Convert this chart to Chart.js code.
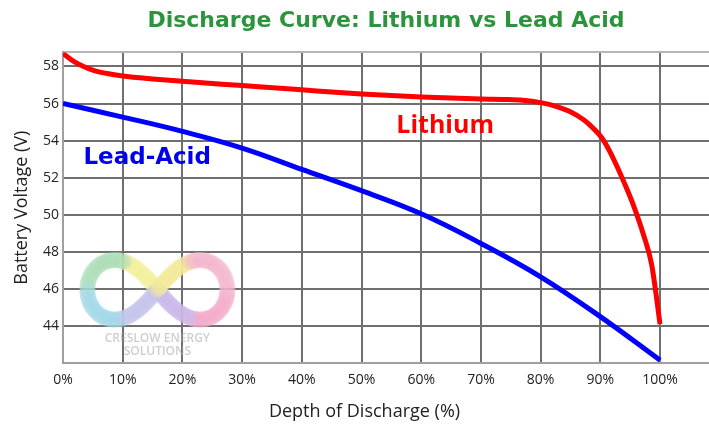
<!DOCTYPE html>
<html>
<head>
<meta charset="utf-8">
<script src="https://cdn.jsdelivr.net/npm/chart.js@4/dist/chart.umd.min.js"></script>
<style>
  html, body { margin: 0; padding: 0; background: #fff; }
  #wrap { width: 709px; height: 425px; }
</style>
</head>
<body>
<div id="wrap"><canvas id="dischargeChart"></canvas></div>
<script>
// depth of discharge (%) and voltage
const lithiumDepth = [0, 1.8, 3.45, 5.1, 7.4, 10, 15, 20, 30, 40, 50, 60, 70, 74, 77, 80, 82.7, 84.9, 87.2, 88.8, 90.3, 91.6, 92.8, 93.9, 95.5, 97.2, 98.6, 100];
const lithiumVolts = [58.7, 58.28, 58.0, 57.79, 57.62, 57.49, 57.33, 57.2, 56.97, 56.74, 56.52, 56.35, 56.24, 56.22, 56.18, 56.05, 55.84, 55.57, 55.12, 54.67, 54.13, 53.41, 52.6, 51.8, 50.55, 48.95, 47.3, 44.1];
const leadDepth = [0, 10, 20, 30, 40, 50, 60, 70, 80, 90, 100];
const leadVolts = [56.0, 55.27, 54.5, 53.6, 52.45, 51.3, 50.05, 48.45, 46.65, 44.5, 42.15];
const xTicks = [0, 10, 20, 30, 40, 50, 60, 70, 80, 90, 100];
const yTicks = [44, 46, 48, 50, 52, 54, 56, 58];

const gridGrey = '#6f6f6f';
const fontFam = "'Open Sans', sans-serif";
const wideFam = "'DejaVu Sans', sans-serif";

function pairs(xs, ys){
    return xs.map((d, i) => ({x: d, y: ys[i]}));
}

// watermark + curve labels + x axis title
const extras = {
    id: 'extras',
    beforeDatasetsDraw(chart){
        const {ctx, scales: {x, y}} = chart;
        const cx = x.getPixelForValue(15.8), cy = y.getPixelForValue(45.95);
        const a = 70;
        const stops = ['#f3a8c8', '#c9b6e8', '#f4ef9c', '#a8dcb4', '#9fd6e6', '#c3c3ec', '#f3ea98', '#f4b4cc'];
        ctx.save();
        ctx.globalAlpha = 0.32;
        ctx.lineWidth = 16;
        ctx.lineCap = 'round';
        const n = 160;
        for (let i = 0; i < n; i++){
            const t0 = i / n * Math.PI * 2, t1 = (i + 1) / n * Math.PI * 2;
            const p = t => {
                const s = Math.sin(t), c = Math.cos(t), d = 1 + s * s;
                return [cx + a * c / d, cy + a * s * c / d * 1.2];
            };
            const [x0, y0] = p(t0), [x1, y1] = p(t1);
            ctx.strokeStyle = stops[Math.floor(i / n * stops.length)];
            ctx.beginPath();
            ctx.moveTo(x0, y0);
            ctx.lineTo(x1, y1);
            ctx.stroke();
        }
        ctx.globalAlpha = 1;
        ctx.fillStyle = 'rgba(165,165,165,0.55)';
        ctx.font = "600 12px " + fontFam;
        ctx.textAlign = 'center';
        ctx.textBaseline = 'middle';
        ctx.fillText('CRESLOW ENERGY', cx, cy + 49);
        ctx.fillText('SOLUTIONS', cx, cy + 62);
        ctx.restore();
    },
    afterDatasetsDraw(chart){
        const {ctx, scales: {x, y}} = chart;
        ctx.save();
        ctx.textAlign = 'center';
        ctx.textBaseline = 'middle';
        ctx.font = "bold 25px " + fontFam;
        ctx.fillStyle = '#ff0000';
        ctx.fillText('Lithium', x.getPixelForValue(64), y.getPixelForValue(54.8));
        ctx.font = "bold 23px " + wideFam;
        ctx.fillStyle = '#0000ee';
        ctx.fillText('Lead-Acid', x.getPixelForValue(14.1), y.getPixelForValue(53.05));
        ctx.font = "18px " + fontFam;
        ctx.fillStyle = '#222';
        ctx.fillText('Depth of Discharge (%)', x.getPixelForValue(50.5), 412);
        ctx.restore();
    }
};

var ctx = document.getElementById('dischargeChart').getContext('2d');
var chart = new Chart(ctx, {
    type: 'line',
    data: {
        datasets: [{
            label: 'Lithium',
            data: pairs(lithiumDepth, lithiumVolts),
            borderColor: '#ff0000',
            borderWidth: 5,
            pointRadius: 0,
            cubicInterpolationMode: 'monotone',
            fill: false
        }, {
            label: 'Lead-Acid',
            data: pairs(leadDepth, leadVolts),
            borderColor: '#0000ff',
            borderWidth: 5,
            pointRadius: 0,
            tension: 0.4,
            fill: false
        }]
    },
    options: {
        responsive: true,
        maintainAspectRatio: false,
        animation: false,
        layout: {padding: 0},
        plugins: {
            legend: {display: false},
            tooltip: {enabled: false},
            title: {
                display: true,
                fullSize: false,
                text: 'Discharge Curve: Lithium vs Lead Acid',
                color: '#2b943d',
                font: {family: wideFam, size: 22, weight: 'bold', lineHeight: 1.2},
                padding: {top: 8, bottom: 18}
            }
        },
        scales: {
            x: {
                type: 'linear',
                min: 0,
                max: 108.2,
                afterBuildTicks: s => { s.ticks = xTicks.map(v => ({value: v})); },
                afterFit: s => { s.height = 62; },
                grid: {color: gridGrey, lineWidth: 2, drawTicks: false},
                border: {color: '#a0a0a0', width: 2},
                ticks: {
                    padding: 9,
                    color: '#222',
                    font: {family: fontFam, size: 14},
                    maxRotation: 0,
                    callback: v => v + '%'
                }
            },
            y: {
                min: 42,
                max: 58.76,
                afterBuildTicks: s => { s.ticks = yTicks.concat([58.76]).map(v => ({value: v})); },
                afterFit: s => { s.width = 63; },
                grid: {
                    color: c => (c.tick && c.tick.value > 58.5) ? '#b5b5b5' : gridGrey,
                    lineWidth: 2,
                    drawTicks: false
                },
                border: {color: '#a0a0a0', width: 2},
                title: {
                    display: true,
                    text: 'Battery Voltage (V)',
                    color: '#222',
                    font: {family: fontFam, size: 18},
                    padding: {top: 11, bottom: 0}
                },
                ticks: {
                    padding: 4,
                    color: '#222',
                    font: {family: fontFam, size: 14},
                    callback: v => v > 58.5 ? '' : v
                }
            }
        }
    },
    plugins: [extras]
});
</script>
</body>
</html>
